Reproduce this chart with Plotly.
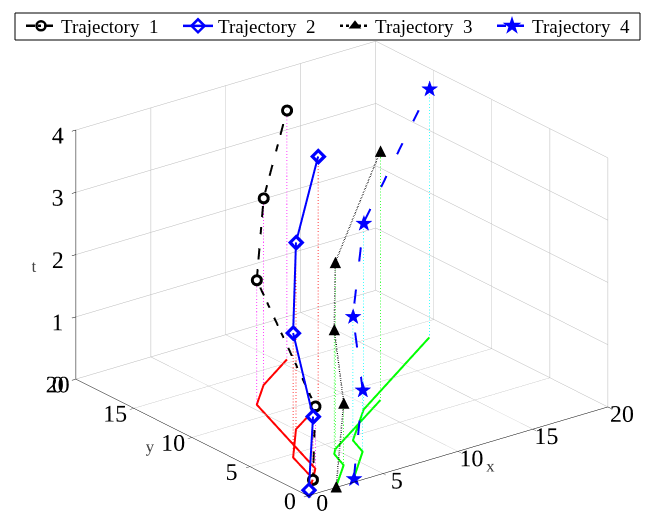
import plotly.graph_objects as go

# sample times of every trajectory
t = [0, 1, 2, 3, 4]

# planar positions (x, y) of the four trajectories at each sample time
traj1_x = [1.55, 2.58, 5.46, 7.39, 10.50]
traj1_y = [1.58, 2.70, 11.47, 13.37, 15.38]
traj2_x = [0.52, 1.63, 2.57, 5.05, 7.96]
traj2_y = [0.60, 1.67, 4.60, 7.56, 9.41]
traj3_x = [1.95, 4.05, 4.59, 5.04, 11.03]
traj3_y = [0.09, 2.16, 3.67, 4.16, 8.01]
traj4_x = [3.41, 5.98, 6.51, 9.54, 18.32]
traj4_y = [0.45, 3.02, 4.54, 7.53, 13.21]

names = ["Trajectory\u00a0\u00a01", "Trajectory\u00a0\u00a02",
         "Trajectory\u00a0\u00a03", "Trajectory\u00a0\u00a04"]
tick_vals_xy = [0, 5, 10, 15, 20]
tick_vals_t = [0, 1, 2, 3, 4]

FONT = "Liberation Serif"
BLUE = "#0000ff"
W, H = 649, 524

fig = go.Figure()


def stems(xs, ys, ts):
    sx, sy, sz = [], [], []
    for x, y, z in zip(xs, ys, ts):
        sx += [x, x, None]
        sy += [y, y, None]
        sz += [z, 0, None]
    return sx, sy, sz


# dotted drop lines from each sample down to the ground plane
for xs, ys, col in [(traj1_x, traj1_y, "#ff00ff"), (traj2_x, traj2_y, "#ff0000"),
                    (traj3_x, traj3_y, "#00ff00"), (traj4_x, traj4_y, "#00ffff")]:
    sx, sy, sz = stems(xs, ys, t)
    fig.add_trace(go.Scatter3d(x=sx, y=sy, z=sz, mode="lines",
                               line=dict(color=col, width=1.5, dash="dot"),
                               showlegend=False, hoverinfo="skip"))

# ground-plane paths (t = 0)
for xs, ys, col in [(traj1_x, traj1_y, "#ff0000"), (traj2_x, traj2_y, "#ff0000"),
                    (traj3_x, traj3_y, "#00ff00"), (traj4_x, traj4_y, "#00ff00")]:
    fig.add_trace(go.Scatter3d(x=xs, y=ys, z=[0] * len(xs), mode="lines",
                               line=dict(color=col, width=4),
                               showlegend=False, hoverinfo="skip"))

# space-time trajectories (open markers: coloured marker with a white core)
fig.add_trace(go.Scatter3d(x=traj1_x, y=traj1_y, z=t, mode="lines+markers",
                           line=dict(color="black", width=4, dash="longdashdot"),
                           marker=dict(symbol="circle", size=7, color="black"),
                           showlegend=False))
fig.add_trace(go.Scatter3d(x=traj1_x, y=traj1_y, z=t, mode="markers",
                           marker=dict(symbol="circle", size=3.5, color="white"),
                           showlegend=False, hoverinfo="skip"))
fig.add_trace(go.Scatter3d(x=traj2_x, y=traj2_y, z=t, mode="lines+markers",
                           line=dict(color=BLUE, width=4),
                           marker=dict(symbol="diamond", size=5.5, color=BLUE),
                           showlegend=False))
fig.add_trace(go.Scatter3d(x=traj2_x, y=traj2_y, z=t, mode="markers",
                           marker=dict(symbol="diamond", size=2.5, color="white"),
                           showlegend=False, hoverinfo="skip"))
fig.add_trace(go.Scatter3d(x=traj3_x, y=traj3_y, z=t, mode="lines+text",
                           line=dict(color="black", width=3, dash="dot"),
                           text=["\u25b2"] * len(t), textposition="middle center",
                           textfont=dict(color="black", size=15, family="DejaVu Sans"),
                           showlegend=False))
fig.add_trace(go.Scatter3d(x=traj4_x, y=traj4_y, z=t, mode="lines+text",
                           line=dict(color=BLUE, width=4, dash="longdash"),
                           text=["\u2605"] * len(t), textposition="middle center",
                           textfont=dict(color=BLUE, size=22, family="DejaVu Sans"),
                           showlegend=False))

# legend entries
legend_styles = [
    dict(line=dict(color="black", width=2.5, dash="dashdot"),
         marker=dict(symbol="circle-open", size=9, color="black", line=dict(width=2.5))),
    dict(line=dict(color=BLUE, width=2.5),
         marker=dict(symbol="diamond-open", size=10, color=BLUE, line=dict(width=2.5))),
    dict(line=dict(color="black", width=2.5, dash="dot"),
         marker=dict(symbol="triangle-up", size=11, color="black")),
    dict(line=dict(color=BLUE, width=2.5, dash="dash"),
         marker=dict(symbol="star", size=14, color=BLUE)),
]
for name, st in zip(names, legend_styles):
    fig.add_trace(go.Scatter(x=[None], y=[None], mode="lines+markers", name=name, **st))

axis_common = dict(
    showbackground=False, showgrid=True, gridcolor="rgb(185,185,185)", gridwidth=1,
    zeroline=False, showline=True, linecolor="black", linewidth=1,
    ticks="outside", tickcolor="black", ticklen=5, showspikes=False, tickangle=0,
    tickfont=dict(family=FONT, size=17, color="black"),
)

direction = (-0.562, -0.732, 0.386)
dist = 1.5
zoom = 1.48
center = (-0.054, 0.0414, 0.0)
fig.update_layout(
    template="none",
    width=W, height=H,
    margin=dict(l=0, r=0, t=0, b=0),
    paper_bgcolor="white", plot_bgcolor="white",
    xaxis=dict(visible=False), yaxis=dict(visible=False),
    scene=dict(
        domain=dict(x=[0.0, 1.0], y=[0.0, 0.975]),
        xaxis=dict(range=[0, 20], tickvals=tick_vals_xy,
                   title=dict(text="x", font=dict(family=FONT, size=17)), **axis_common),
        yaxis=dict(range=[0, 20], tickvals=tick_vals_xy,
                   title=dict(text="y", font=dict(family=FONT, size=17)), **axis_common),
        zaxis=dict(range=[0, 4], tickvals=tick_vals_t,
                   title=dict(text="t", font=dict(family=FONT, size=17)), **axis_common),
        aspectmode="manual", aspectratio=dict(x=1 * zoom, y=1.008 * zoom, z=0.714 * zoom),
        camera=dict(eye=dict(x=center[0] + direction[0] * dist,
                             y=center[1] + direction[1] * dist,
                             z=center[2] + direction[2] * dist),
                    up=dict(x=0, y=0, z=1),
                    center=dict(x=center[0], y=center[1], z=center[2]),
                    projection=dict(type="orthographic")),
        bgcolor="rgba(0,0,0,0)",
    ),
    legend=dict(orientation="h", x=0.5 + 14 / W, xanchor="center", y=1 - 7 / H, yanchor="top",
                borderwidth=0, bgcolor="rgba(0,0,0,0)", entrywidth=112,
                font=dict(family=FONT, size=19, color="black")),
    shapes=[dict(type="rect", xref="paper", yref="paper",
                 x0=15 / W, x1=640 / W, y0=1 - 40 / H, y1=1 - 13 / H,
                 line=dict(color="black", width=1), fillcolor="rgba(0,0,0,0)", layer="above")],
    showlegend=True,
)

fig.write_html("out.html")
